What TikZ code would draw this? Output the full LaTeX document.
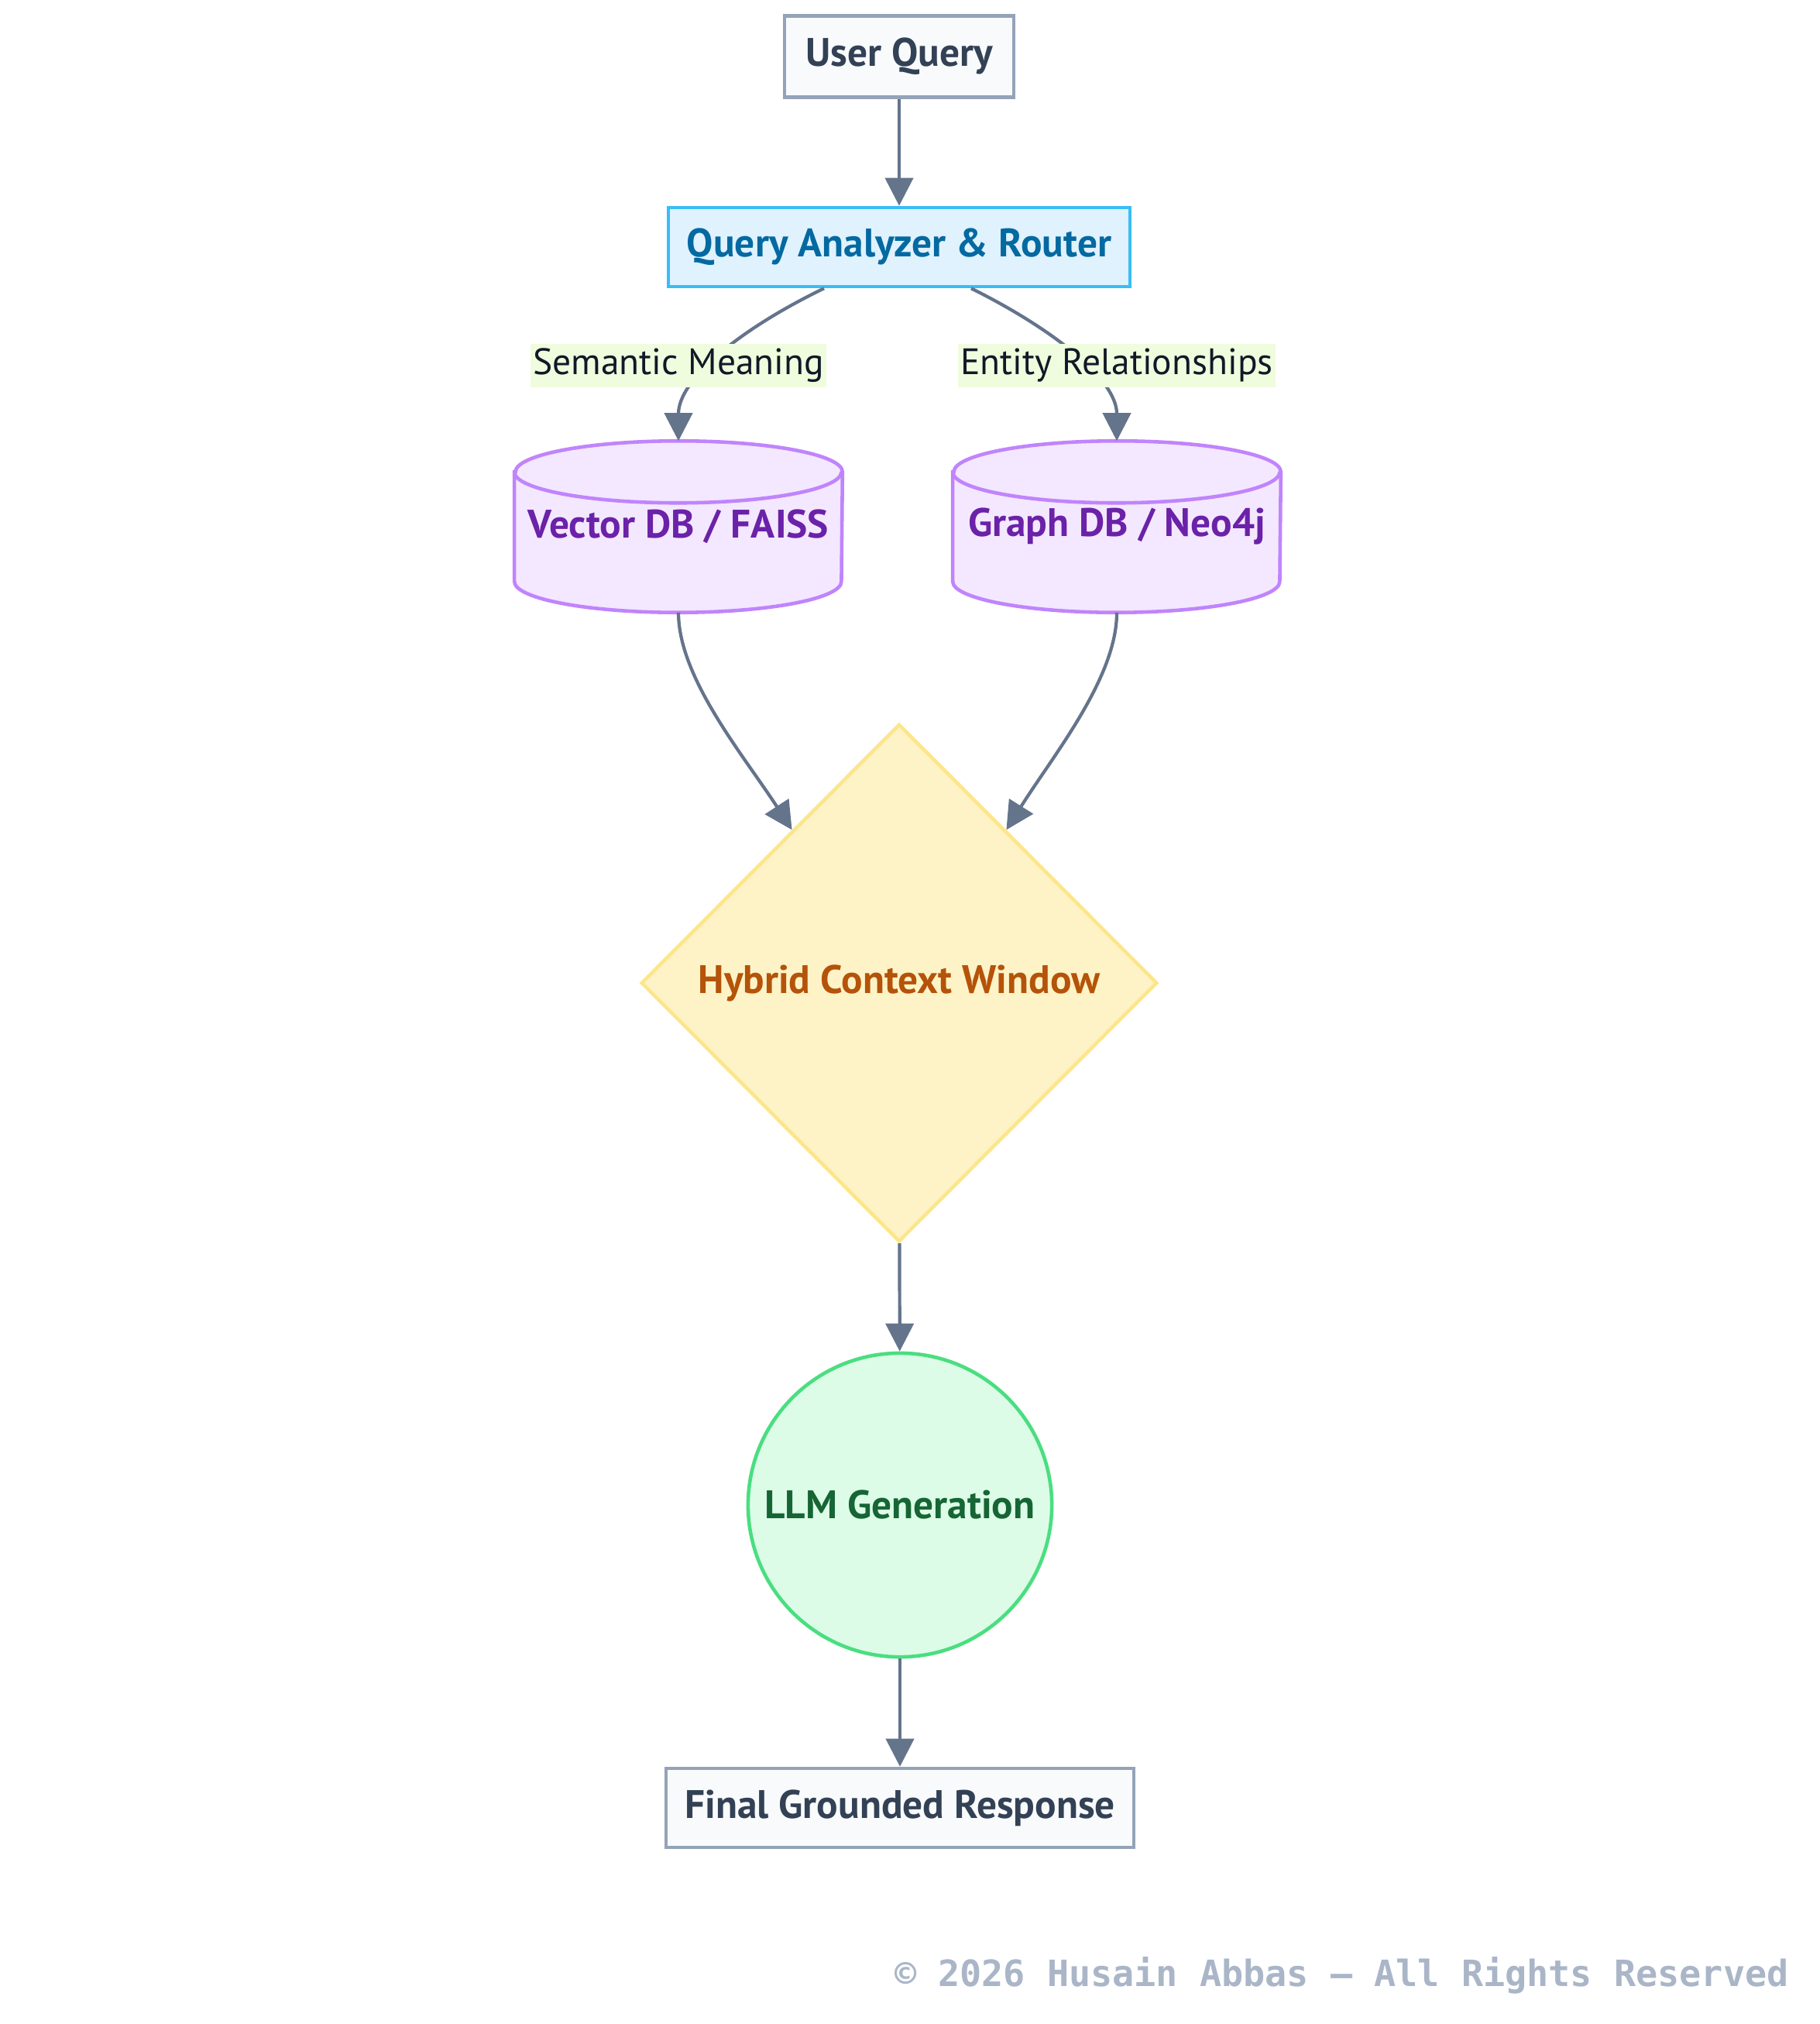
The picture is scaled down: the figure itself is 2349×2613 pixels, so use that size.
\documentclass[tikz,border=0pt]{standalone}
\usepackage{fontspec}
\setmainfont{PT Sans}
\setmonofont{DejaVu Sans Mono}
\usetikzlibrary{arrows.meta,shapes.geometric,backgrounds}

\definecolor{edgegray}{HTML}{64748B}
\definecolor{plainfill}{HTML}{F8FAFC}
\definecolor{plaindraw}{HTML}{94A3B8}
\definecolor{plaintext}{HTML}{334155}
\definecolor{routerfill}{HTML}{E0F2FE}
\definecolor{routerdraw}{HTML}{38BDF8}
\definecolor{routertext}{HTML}{0369A1}
\definecolor{dbfill}{HTML}{F3E8FF}
\definecolor{dbdraw}{HTML}{C084FC}
\definecolor{dbtext}{HTML}{6B21A8}
\definecolor{ctxfill}{HTML}{FDF3C6}
\definecolor{ctxdraw}{HTML}{FDE68A}
\definecolor{ctxtext}{HTML}{B45309}
\definecolor{llmfill}{HTML}{DCFCE7}
\definecolor{llmdraw}{HTML}{4ADE80}
\definecolor{llmtext}{HTML}{166534}
\definecolor{labelfill}{HTML}{EFFCDD}
\definecolor{labeltext}{HTML}{111827}
\definecolor{notetext}{HTML}{AAB6C8}

\begin{document}
\begin{tikzpicture}[x=0.01cm, y=-0.01cm,
	nodefont/.style={font=\bfseries\fontsize{14.6}{17}\selectfont},
	plain/.style={shape=rectangle, draw=plaindraw, fill=plainfill, text=plaintext, line width=1.3pt, nodefont},
	router/.style={shape=rectangle, draw=routerdraw, fill=routerfill, text=routertext, line width=1.3pt, nodefont},
	db/.style={shape=rectangle, minimum width=4.22cm, minimum height=2.2cm, text=dbtext, nodefont},
	dbline/.style={draw=dbdraw, fill=dbfill, line width=1.3pt},
	ctx/.style={shape=diamond, aspect=1, minimum width=6.66cm, minimum height=6.68cm, inner sep=0pt, draw=ctxdraw, fill=ctxfill, text=ctxtext, line width=1.3pt, nodefont},
	llm/.style={shape=circle, minimum size=3.92cm, inner sep=0pt, draw=llmdraw, fill=llmfill, text=llmtext, line width=1.3pt, nodefont},
	elabel/.style={shape=rectangle, fill=labelfill, text=labeltext, inner sep=1pt, minimum height=0.55cm, font=\fontsize{13.5}{16}\selectfont},
	flow/.style={color=edgegray, line width=1.2pt, -{Triangle[length=0.36cm, width=0.36cm]}},
	note/.style={text=notetext, font=\ttfamily\bfseries\fontsize{13.3}{16}\selectfont}
	]
	
	\useasboundingbox (0, 0) rectangle (2349, 2613);
	
	\node[plain, minimum width=2.96cm, minimum height=1.05cm] (uq) at (1161, 73) {User Query};
	\node[router, minimum width=5.96cm, minimum height=1.02cm] (qa) at (1161, 319) {Query Analyzer \& Router};
	\node[db] (vdb) at (876, 680) {Vector DB / FAISS};
	\node[db] (gdb) at (1442, 680) {Graph DB / Neo4j};
	\node[ctx] (hcw) at (1161, 1269) {Hybrid Context Window};
	\node[llm] (llm) at (1162, 1943) {LLM Generation};
	\node[plain, minimum width=6.04cm, minimum height=1.02cm] (fin) at (1162, 2334) {Final Grounded Response};
	
	\begin{scope}[on background layer]
		\fill[white] (0, 0) rectangle (2349, 2613);
		\foreach \n in {vdb, gdb} {
			\path[dbline] ([yshift=-0.4cm]\n.north west) -- ([yshift=0.4cm]\n.south west)
				arc[start angle=180, end angle=360, x radius=2.11cm, y radius=0.4cm]
				-- ([yshift=-0.4cm]\n.north east)
				arc[start angle=0, end angle=180, x radius=2.11cm, y radius=0.4cm] -- cycle;
			\draw[dbline, fill=none] ([yshift=-0.4cm]\n.north west)
				arc[start angle=180, end angle=360, x radius=2.11cm, y radius=0.4cm];
		}
	\end{scope}
	
	\draw[flow] (uq) -- (qa);
	\draw[flow] ([xshift=-0.97cm]qa.south) .. controls (955, 425) and (876, 490) .. (vdb.north);
	\draw[flow] ([xshift=0.93cm]qa.south) .. controls (1360, 425) and (1442, 490) .. (gdb.north);
	\draw[flow] (vdb.south) .. controls (876, 875) and (960, 975) .. (hcw.125);
	\draw[flow] (gdb.south) .. controls (1442, 875) and (1360, 975) .. (hcw.55);
	\draw[flow] (hcw) -- (llm);
	\draw[flow] (llm) -- (fin);
	
	\node[elabel] (sem) at (876, 472) {Semantic Meaning};
	\node[elabel] (ent) at (1442, 472) {Entity Relationships};
	
	\node[note, anchor=east] (copy) at (2322, 2550) {© 2026 Husain Abbas — All Rights Reserved};
	
\end{tikzpicture}
\end{document}
